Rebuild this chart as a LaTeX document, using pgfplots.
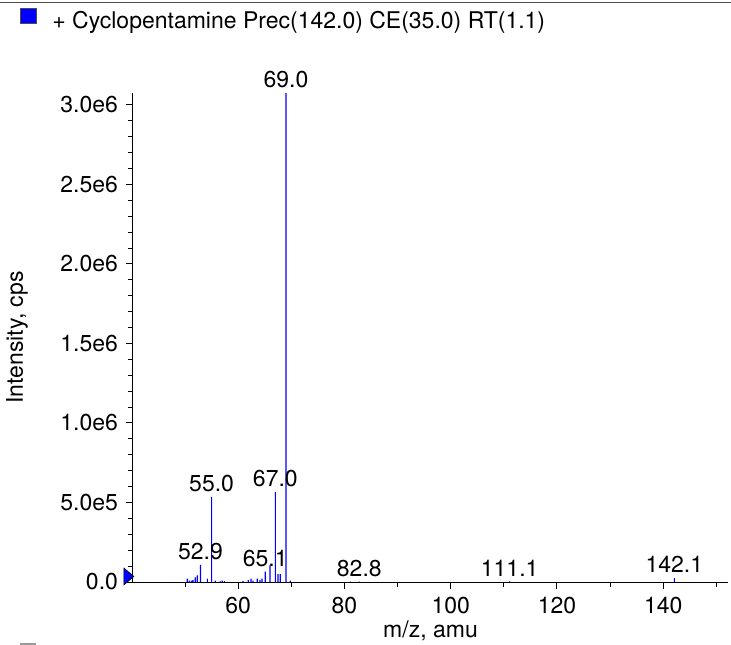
\documentclass[border=0pt]{standalone}
\usepackage{pgfplots}
\pgfplotsset{compat=1.18}
\usepackage{fontspec}
\setmainfont{TeX Gyre Heros}
\definecolor{peak}{RGB}{0,0,255}
\begin{document}
\fontsize{11.5}{13.8}\selectfont
\begin{tikzpicture}[font=\fontsize{11.5}{13.8}\selectfont]
\path[use as bounding box] (-66.5pt,-31pt) rectangle (299pt,291pt);
\draw[line width=0.6pt, black!70] (-66.5pt,289.6pt) -- (299pt,289.6pt);
\filldraw[fill=peak, draw=black!70, line width=0.4pt] (-56.5pt,279.5pt) rectangle (-48.5pt,287pt);
\node[anchor=base west, inner sep=0pt] at (-40.5pt,276.9pt) {+ Cyclopentamine Prec(142.0) CE(35.0) RT(1.1)};
\fill[black!40] (-56.5pt,-30.6pt) rectangle (-48.5pt,-33pt);
\begin{axis}[
  scale only axis, width=297.5pt, height=244.5pt,
  xmin=40.2, xmax=152.2, ymin=0, ymax=3.075e6,
  axis lines*=left,
  axis line style={line width=0.5pt, black},
  clip=false,
  xtick={60,80,100,120,140}, xticklabels={60,80,100,120,140},
  minor xtick={50,70,90,110,130,150},
  ytick={0,5e5,1e6,1.5e6,2e6,2.5e6,3e6},
  yticklabels={0.0,5.0e5,1.0e6,1.5e6,2.0e6,2.5e6,3.0e6},
  minor y tick num=4,
  scaled y ticks=false,
  tick align=outside,
  major tick length=3.5pt, minor tick length=2.3pt,
  tick style={black, line width=0.5pt},
  xlabel={m/z, amu},
  ylabel={Intensity, cps},
  xlabel style={at={(axis description cs:0.5,-0.1125)}, anchor=base, inner sep=0pt},
  ylabel style={at={(axis description cs:-0.195,0.5)}, anchor=center, inner sep=0pt},
]
\addplot[ybar, bar width=0.6pt, bar shift=0pt, fill=peak, draw=none, mark=none] table {
x y
50.4 0.021e6
50.8 0.008e6
51.2 0.008e6
51.5 0.0126e6
51.9 0.029e6
52.3 0.042e6
52.9 0.107e6
54.2 0.021e6
55.0 0.536e6
55.7 0.008e6
56.6 0.006e6
57.0 0.008e6
57.4 0.006e6
60.9 0.006e6
61.9 0.0126e6
62.4 0.021e6
62.8 0.008e6
63.6 0.021e6
64.1 0.0126e6
64.5 0.021e6
65.1 0.066e6
66.0 0.105e6
67.0 0.567e6
67.5 0.050e6
67.9 0.050e6
69.0 3.075e6
69.8 0.008e6
81.1 0.003e6
82.8 0.003e6
111.1 0.004e6
142.1 0.025e6
};
\addplot[only marks, mark=triangle*, mark size=4.9pt,
  mark options={xscale=0.68, rotate=-90, fill=peak, draw=black, line width=0.3pt}]
  coordinates {(39.1,0.035e6)};
\path (axis cs:52.9,0.107e6) node[anchor=base, inner sep=0pt, yshift=2.6pt] {52.9};
\path (axis cs:55.0,0.536e6) node[anchor=base, inner sep=0pt, yshift=2.6pt] {55.0};
\path (axis cs:65.1,0.066e6) node[anchor=base, inner sep=0pt, yshift=2.6pt] {65.1};
\path (axis cs:67.0,0.567e6) node[anchor=base, inner sep=0pt, yshift=2.6pt] {67.0};
\path (axis cs:69.0,3.075e6) node[anchor=base, inner sep=0pt, yshift=2.6pt] {69.0};
\path (axis cs:82.8,0.003e6) node[anchor=base, inner sep=0pt, yshift=2.6pt] {82.8};
\path (axis cs:111.1,0.004e6) node[anchor=base, inner sep=0pt, yshift=2.6pt] {111.1};
\path (axis cs:142.1,0.025e6) node[anchor=base, inner sep=0pt, yshift=2.6pt] {142.1};
\end{axis}
\end{tikzpicture}
\end{document}
